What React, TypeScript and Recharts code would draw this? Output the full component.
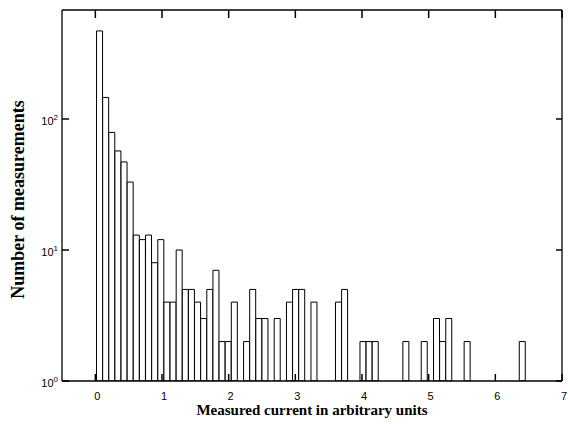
import { BarChart, Bar, XAxis, YAxis } from 'recharts';

// counts per bin (0 = empty bin)
const counts = [
  470, 146, 79, 57, 47, 33, 13, 12, 13, 8,
  12, 4, 4, 10, 5, 5, 4, 3, 5, 7,
  2, 2, 4, 0, 2, 5, 3, 3, 0, 3,
  0, 4, 5, 5, 0, 4, 0, 0, 0, 4,
  5, 0, 0, 2, 2, 2, 0, 0, 0, 0,
  2, 0, 0, 2, 0, 3, 2, 3, 0, 0,
  2, 0, 0, 0, 0, 0, 0, 0, 0, 2,
  0, 0, 0, 0, 0, 0,
];
const binStart = 0.018;
const binWidth = 0.0919;

const xTicks = [0, 1, 2, 3, 4, 5, 6, 7];
const yTicks = [1, 10, 100];
const yExponents = ['0', '1', '2'];

const data = counts.map((c, i) => ({
  x: binStart + binWidth * (i + 0.5),
  count: c > 0 ? c : null,
}));

const MARGIN = { top: 9, right: 5, bottom: 0, left: 0 };
const PLOT_TOP = MARGIN.top + 1; // below the 1px top frame axis

const sans = 'Liberation Sans, Arial, sans-serif';
const serif = 'Liberation Serif, Times New Roman, serif';

// bottom tick also draws the matching inward tick on the top frame
const BottomTick = (props: any) => {
  const { x, y, payload } = props;
  return (
    <g>
      <line x1={x} x2={x} y1={y} y2={y - 7} stroke="#000" strokeWidth={1.5} />
      <line x1={x} x2={x} y1={PLOT_TOP} y2={PLOT_TOP + 8} stroke="#000" strokeWidth={1.5} />
      <text x={x + 2} y={y + 19} textAnchor="middle" fontSize={11} fontFamily={sans} fill="#000">
        {payload.value}
      </text>
    </g>
  );
};

const LeftTick = (props: any) => {
  const { x, y, payload } = props;
  return (
    <g>
      <line x1={x} x2={x + 7} y1={y} y2={y} stroke="#000" strokeWidth={1.5} />
      <text x={x - 4} y={y + 6} textAnchor="end" fontSize={11} fontFamily={sans} fill="#000">
        10
        <tspan fontSize={8} dy={-5}>{yExponents[yTicks.indexOf(payload.value)]}</tspan>
      </text>
    </g>
  );
};

const RightTick = (props: any) => {
  const { x, y } = props;
  return <line x1={x} x2={x - 6} y1={y} y2={y} stroke="#000" strokeWidth={1.5} />;
};

const XTitle = ({ viewBox }: any) => (
  <text
    x={viewBox.x + viewBox.width / 2}
    y={415}
    textAnchor="middle"
    fontSize={15}
    fontWeight="bold"
    fontFamily={serif}
    fill="#000"
  >
    Measured current in arbitrary units
  </text>
);

const YTitle = ({ viewBox }: any) => {
  const cx = 24;
  const cy = viewBox.y + viewBox.height / 2 + 4;
  return (
    <text
      x={cx}
      y={cy}
      transform={`rotate(-90, ${cx}, ${cy})`}
      textAnchor="middle"
      fontSize={18}
      fontWeight="bold"
      fontFamily={serif}
      fill="#000"
    >
      Number of measurements
    </text>
  );
};

export default function App() {
  return (
    <div style={{ position: 'absolute', left: 0, top: 0, background: '#fff' }}>
      <BarChart
        width={568}
        height={425}
        data={data}
        margin={MARGIN}
        barCategoryGap={0}
        barGap={0}
      >
        <XAxis
          xAxisId="top"
          orientation="top"
          type="number"
          domain={[-0.5, 7]}
          allowDataOverflow
          height={1}
          tick={false}
          tickLine={false}
          axisLine={{ stroke: '#000', strokeWidth: 1.3 }}
        />
        <YAxis
          yAxisId="right"
          orientation="right"
          scale="log"
          domain={[1, 679]}
          ticks={yTicks}
          allowDataOverflow
          width={1}
          tickSize={0}
          tickMargin={0}
          tickLine={false}
          tick={<RightTick />}
          axisLine={{ stroke: '#000', strokeWidth: 1.3 }}
        />
        <XAxis
          dataKey="x"
          type="number"
          domain={[-0.5, 7]}
          ticks={xTicks}
          allowDataOverflow
          height={44}
          tickSize={0}
          tickMargin={0}
          tickLine={false}
          tick={<BottomTick />}
          axisLine={{ stroke: '#000', strokeWidth: 1.3 }}
          label={<XTitle />}
        />
        <YAxis
          scale="log"
          domain={[1, 679]}
          ticks={yTicks}
          allowDataOverflow
          width={62}
          tickSize={0}
          tickMargin={0}
          tickLine={false}
          tick={<LeftTick />}
          axisLine={{ stroke: '#000', strokeWidth: 1.3 }}
          label={<YTitle />}
        />
        <Bar dataKey="count" fill="#fff" stroke="#000" strokeWidth={1} isAnimationActive={false} />
      </BarChart>
    </div>
  );
}
